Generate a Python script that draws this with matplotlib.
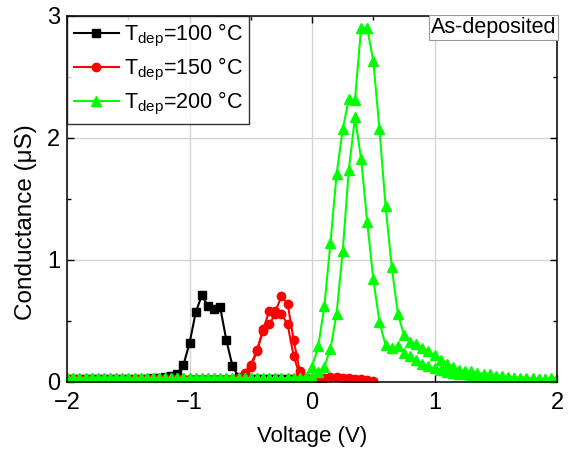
import matplotlib
matplotlib.use("Agg")
import matplotlib.pyplot as plt
from matplotlib.ticker import MultipleLocator

plt.rcParams['font.family'] = ['Liberation Sans', 'DejaVu Sans']
plt.rcParams['mathtext.fontset'] = 'custom'
plt.rcParams['mathtext.rm'] = 'Liberation Sans'
plt.rcParams['mathtext.it'] = 'Liberation Sans:italic'

# Voltage sweep grid (V)
voltage = [-2.00, -1.95, -1.90, -1.85, -1.80, -1.75, -1.70, -1.65, -1.60, -1.55,
           -1.50, -1.45, -1.40, -1.35, -1.30, -1.25, -1.20, -1.15, -1.10, -1.05,
           -1.00, -0.95, -0.90, -0.85, -0.80, -0.75, -0.70, -0.65, -0.60, -0.55,
           -0.50, -0.45, -0.40, -0.35, -0.30, -0.25, -0.20, -0.15, -0.10, -0.05,
           0.00, 0.05, 0.10, 0.15, 0.20, 0.25, 0.30, 0.35, 0.40, 0.45,
           0.50, 0.55, 0.60, 0.65, 0.70, 0.75, 0.80, 0.85, 0.90, 0.95,
           1.00, 1.05, 1.10, 1.15, 1.20, 1.25, 1.30, 1.35, 1.40, 1.45,
           1.50, 1.55, 1.60, 1.65, 1.70, 1.75, 1.80, 1.85, 1.90, 1.95, 2.00]

# T_dep = 100 C (from -2.00 V to 0.00 V)
g100 = [0.025, 0.025, 0.025, 0.025, 0.025, 0.025, 0.025, 0.025, 0.025, 0.025,
        0.025, 0.025, 0.025, 0.025, 0.03, 0.035, 0.04, 0.05, 0.066, 0.14,
        0.32, 0.57, 0.71, 0.62, 0.60, 0.61, 0.34, 0.13, 0.04, 0.025,
        0.025, 0.025, 0.025, 0.025, 0.025, 0.025, 0.025, 0.025, 0.025, 0.025, 0.025]

# T_dep = 150 C, forward sweep (from -2.00 V to 0.50 V)
g150_fwd = [0.025, 0.025, 0.025, 0.025, 0.025, 0.025, 0.025, 0.025, 0.025, 0.025,
            0.025, 0.025, 0.025, 0.025, 0.025, 0.025, 0.025, 0.025, 0.025, 0.025,
            0.025, 0.025, 0.025, 0.025, 0.025, 0.025, 0.025, 0.025, 0.03, 0.076,
            0.14, 0.26, 0.43, 0.58, 0.58, 0.70, 0.64, 0.34, 0.085, 0.03,
            0.025, 0.03, 0.035, 0.04, 0.04, 0.035, 0.03, 0.025, 0.02, 0.015, 0.01]
# T_dep = 150 C, reverse sweep (listed from -2.00 V to 0.00 V)
g150_rev = [0.025, 0.025, 0.025, 0.025, 0.025, 0.025, 0.025, 0.025, 0.025, 0.025,
            0.025, 0.025, 0.025, 0.025, 0.025, 0.025, 0.025, 0.025, 0.025, 0.025,
            0.025, 0.025, 0.025, 0.025, 0.025, 0.025, 0.025, 0.025, 0.03, 0.05,
            0.12, 0.25, 0.42, 0.47, 0.56, 0.56, 0.47, 0.21, 0.05, 0.025, 0.025]

# T_dep = 200 C, forward sweep (from -2.00 V to 2.00 V)
g200_fwd = [0.03, 0.03, 0.03, 0.03, 0.03, 0.03, 0.03, 0.03, 0.03, 0.03,
            0.03, 0.03, 0.03, 0.03, 0.03, 0.03, 0.03, 0.03, 0.03, 0.03,
            0.03, 0.03, 0.03, 0.03, 0.03, 0.03, 0.03, 0.03, 0.03, 0.03,
            0.03, 0.03, 0.03, 0.03, 0.03, 0.03, 0.03, 0.03, 0.03, 0.04,
            0.125, 0.29, 0.62, 1.14, 1.70, 2.07, 2.32, 2.31, 2.90, 2.90,
            2.63, 2.07, 1.44, 0.945, 0.56, 0.385, 0.33, 0.31, 0.28, 0.25,
            0.22, 0.18, 0.15, 0.12, 0.10, 0.09, 0.085, 0.075, 0.065, 0.06,
            0.05, 0.045, 0.04, 0.035, 0.03, 0.03, 0.03, 0.025, 0.025, 0.03, 0.03]
# T_dep = 200 C, reverse sweep (listed from -2.00 V to 2.00 V)
g200_rev = [0.03, 0.03, 0.03, 0.03, 0.03, 0.03, 0.03, 0.03, 0.03, 0.03,
            0.03, 0.03, 0.03, 0.03, 0.03, 0.03, 0.03, 0.03, 0.03, 0.03,
            0.03, 0.03, 0.03, 0.03, 0.03, 0.03, 0.03, 0.03, 0.03, 0.03,
            0.03, 0.03, 0.03, 0.03, 0.03, 0.03, 0.03, 0.03, 0.03, 0.03,
            0.04, 0.08, 0.125, 0.27, 0.56, 1.07, 1.74, 2.17, 1.83, 1.31,
            0.84, 0.49, 0.30, 0.28, 0.29, 0.235, 0.21, 0.18, 0.15, 0.13,
            0.11, 0.095, 0.08, 0.07, 0.065, 0.06, 0.055, 0.05, 0.045, 0.04,
            0.04, 0.035, 0.03, 0.03, 0.025, 0.025, 0.025, 0.025, 0.025, 0.025, 0.025]

labels = [r'T$_{\mathrm{dep}}$=100 °C', r'T$_{\mathrm{dep}}$=150 °C', r'T$_{\mathrm{dep}}$=200 °C']
colors = ['#000000', '#ff0000', '#00ff00']

fig = plt.figure(figsize=(5.69, 4.54), dpi=100)
ax = fig.add_axes([0.118, 0.159, 0.861, 0.806])

lw = 1.5
ax.plot(voltage[:len(g100)], g100, '-s', color=colors[0], lw=lw, ms=5.5, label=labels[0])
ax.plot(voltage[:len(g150_fwd)], g150_fwd, '-o', color=colors[1], lw=lw, ms=6, label=labels[1])
ax.plot(voltage[:len(g150_rev)], g150_rev, '-o', color=colors[1], lw=lw, ms=6)
ax.plot(voltage[:len(g200_fwd)], g200_fwd, '-^', color=colors[2], lw=lw, ms=6.5, label=labels[2])
ax.plot(voltage[:len(g200_rev)], g200_rev, '-^', color=colors[2], lw=lw, ms=6.5)

ax.set_xlim(-2, 2)
ax.set_ylim(0, 3)
ax.xaxis.set_major_locator(MultipleLocator(1))
ax.xaxis.set_minor_locator(MultipleLocator(0.5))
ax.yaxis.set_major_locator(MultipleLocator(1))
ax.yaxis.set_minor_locator(MultipleLocator(0.5))
ax.tick_params(which='both', direction='in', top=True, right=True, width=1.0)
ax.tick_params(which='major', length=5, labelsize=17, pad=5)
ax.tick_params(axis='x', which='major', pad=7)
ax.tick_params(which='minor', length=3)
ax.grid(True, which='major', color='#d3d3d3', lw=1.0)
ax.set_axisbelow(True)
for s in ax.spines.values():
    s.set_linewidth(1.1)

ax.set_xlabel('Voltage (V)', fontsize=16, labelpad=9)
ax.set_ylabel('Conductance (μS)', fontsize=17.5)
ax.yaxis.set_label_coords(-0.062, 0.437)

leg = ax.legend(loc='upper left', fontsize=15.5, frameon=True, fancybox=False,
                edgecolor='black', borderaxespad=0, handlelength=2.1,
                handletextpad=0.25, labelspacing=0.32, borderpad=0.3)
leg.get_frame().set_linewidth(1.0)

ax.text(0.999, 0.997, 'As-deposited', transform=ax.transAxes, ha='right', va='top',
        fontsize=15.5,
        bbox=dict(boxstyle='square,pad=0.08', fc='white', ec='#999999', lw=0.8))

fig.savefig('out.png', dpi=100)
